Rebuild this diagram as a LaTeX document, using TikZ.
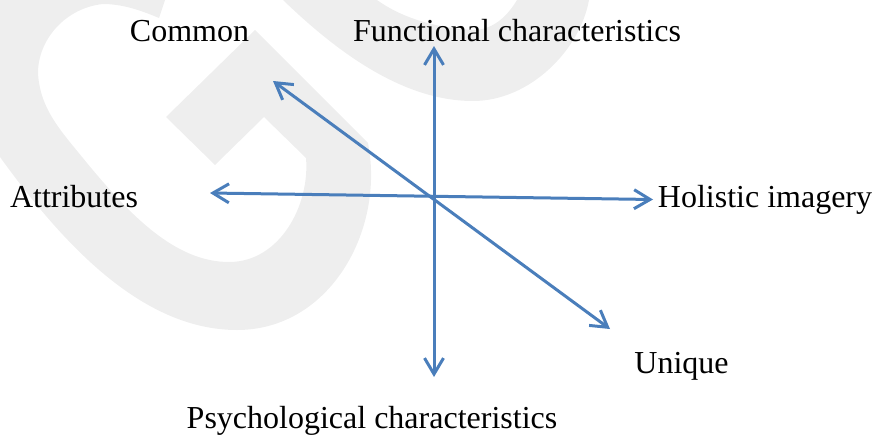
\documentclass[tikz,border=0pt]{standalone}
\usepackage{fontspec}
\setmainfont{Liberation Serif}
\usepackage{xcolor}
\usetikzlibrary{arrows.meta}
\definecolor{wmark}{HTML}{EEEEEE}
\definecolor{axis}{HTML}{4A7EBB}
\tikzset{
  wmarkshape/.style={fill=wmark, draw=none},
  axislabel/.style={text=black, font=\fontsize{32}{34}\selectfont, inner sep=0pt},
  axisarr/.style={{Straight Barb[length=16pt,width=19pt]}-{Straight Barb[length=16pt,width=19pt]}, draw=axis, line width=3pt}
}
\begin{document}
\begin{tikzpicture}[x=1pt, y=-1pt]
  \useasboundingbox (0,0) rectangle (875,434);

  % watermark
  \fill[wmarkshape] (0,0) -- (165,0) -- (159,18)
    .. controls (140,10) and (122,4) .. (103,4)
    .. controls (65,8) and (38,40) .. (38,73)
    .. controls (40,110) and (62,132) .. (87,163)
    .. controls (130,215) and (175,262) .. (229,262)
    .. controls (280,262) and (310,205) .. (306,158)
    -- (264,117) -- (215,165) -- (166,117) -- (255,30) -- (368,143)
    .. controls (385,230) and (330,330) .. (237,330)
    .. controls (140,330) and (60,240) .. (0,157) -- cycle;
  \fill[wmarkshape] (283,0)
    .. controls (340,55) and (405,101) .. (473,101)
    .. controls (530,101) and (580,50) .. (589,0)
    -- (517,0) .. controls (505,20) and (490,30) .. (473,30)
    .. controls (440,28) and (405,20) .. (377,0) -- cycle;

  \node[axislabel] (common) at (189.5,31) {Common};
  \node[axislabel] (functional) at (517,31) {Functional characteristics};
  \node[axislabel] (attributes) at (74,197) {Attributes};
  \node[axislabel] (holistic) at (765,200) {Holistic imagery};
  \node[axislabel] (unique) at (681.5,366) {Unique};
  \node[axislabel] (psychological) at (372,421) {Psychological characteristics};

  \coordinate (topend) at (434,46);
  \coordinate (bottomend) at (434,377);
  \coordinate (leftend) at (210,193);
  \coordinate (rightend) at (653,199.5);
  \coordinate (commonend) at (273,81);
  \coordinate (uniqueend) at (610,329);

  \draw[axisarr] (topend) -- (bottomend);
  \draw[axisarr] (leftend) -- (rightend);
  \draw[axisarr] (commonend) -- (uniqueend);
\end{tikzpicture}
\end{document}
